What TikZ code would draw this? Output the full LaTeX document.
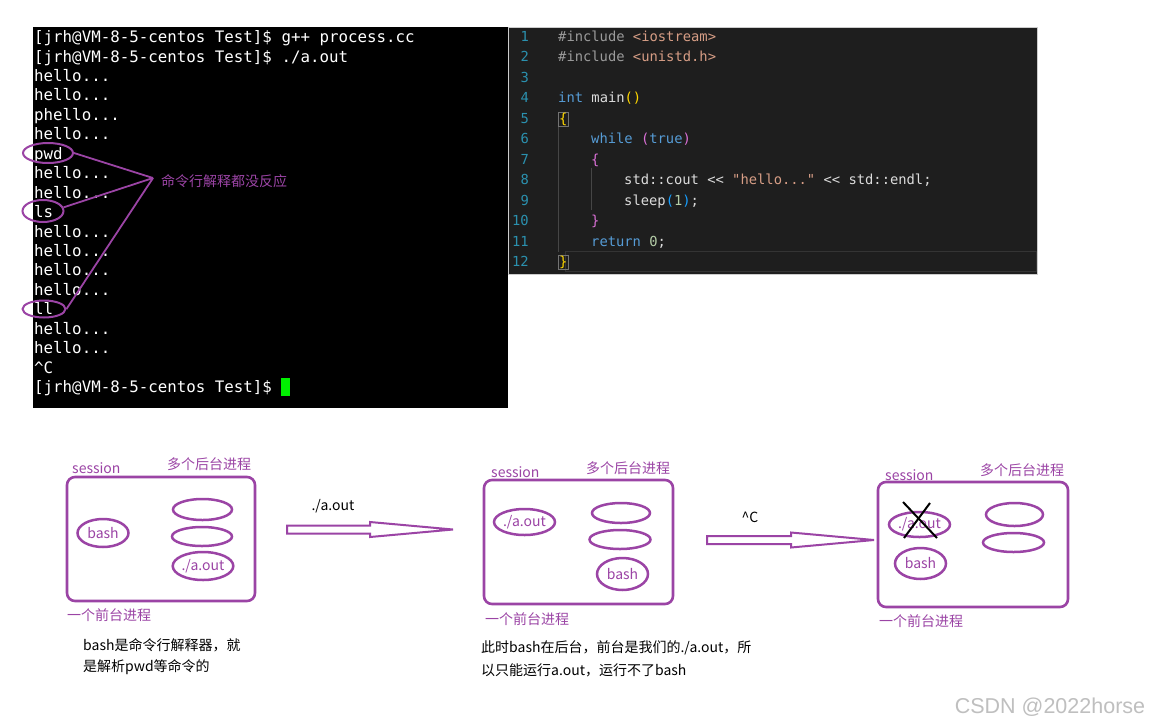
\documentclass[tikz,border=0pt]{standalone}
\usepackage{fontspec}
\setmainfont{Noto Sans CJK SC}
\setmonofont{DejaVu Sans Mono}
\newfontfamily\wmfont{Liberation Sans}
\usetikzlibrary{shapes.geometric}

\newcommand\prompt{[jrh@VM-8-5-centos Test]\$}
\newcommand\helloline{hello...}
\newcommand\phelloline{phello...}

\begin{document}
\begin{tikzpicture}[x=1pt, y=-1pt]

% ── Colours ──
\definecolor{annot}{RGB}{155,68,165}
\definecolor{codebg}{RGB}{30,30,30}
\definecolor{curline}{RGB}{52,52,52}
\definecolor{guide}{RGB}{70,70,70}
\definecolor{lnum}{RGB}{43,145,175}
\definecolor{cgray}{RGB}{155,155,155}
\definecolor{cstr}{RGB}{214,157,133}
\definecolor{ckey}{RGB}{86,156,214}
\definecolor{cplain}{RGB}{220,220,220}
\definecolor{cyel}{RGB}{255,215,0}
\definecolor{cmag}{RGB}{218,112,214}
\definecolor{cblu}{RGB}{23,159,255}
\definecolor{cnum}{RGB}{181,206,168}
\definecolor{cursor}{RGB}{0,240,0}

\tikzset{
  termline/.style={anchor=base west, inner sep=0pt, text=white, font=\ttfamily\fontsize{15.8}{19}\selectfont},
  codeline/.style={anchor=base west, inner sep=0pt, text=cplain, font=\ttfamily\fontsize{13.8}{17}\selectfont},
  linenum/.style={anchor=base east, inner sep=0pt, text=lnum, font=\ttfamily\fontsize{13.8}{17}\selectfont},
  ring/.style={draw=annot, line width=2pt, ellipse, inner sep=0pt},
  proc/.style={draw=annot, line width=2.5pt, ellipse, inner sep=0pt, text=annot, font=\fontsize{14}{16}\selectfont},
  sess/.style={draw=annot, line width=2.6pt, rounded corners=8pt, inner sep=0pt},
  tag/.style={anchor=west, inner sep=0pt, text=annot, font=\fontsize{14}{16}\selectfont},
  note/.style={anchor=west, inner sep=0pt, text=black, font=\fontsize{14}{16}\selectfont},
}

\fill[white] (0,0) rectangle (1150,726);
\useasboundingbox (0,0) rectangle (1150,726);

% ── Terminal ──
\fill[black] (33,27) rectangle (508,408);
\foreach \t [count=\i] in {{\prompt{} g++ process.cc}, {\prompt{} ./a.out},
    \helloline, \helloline, \phelloline, \helloline, pwd, \helloline, \helloline, ls,
    \helloline, \helloline, \helloline, \helloline, ll, \helloline, \helloline,
    \textasciicircum C, \prompt} {
  \pgfmathsetmacro{\y}{37 + (\i-1)*19.44 + 5.6}
  \node[termline] (t\i) at (34, \y) {\t};
}
\fill[cursor] (281,378) rectangle (290,396);

% rings round the ignored commands
\node[ring, minimum width=50pt, minimum height=20pt] (pwdring) at (48,153) {};
\node[ring, minimum width=41pt, minimum height=22pt] (lsring) at (43,211) {};
\node[ring, minimum width=43pt, minimum height=17pt] (llring) at (44,309) {};
\node[tag] (nores) at (161,181) {命令行解释都没反应};
\coordinate (meet) at (153,178);
\draw[annot, line width=1.8pt] (pwdring.east) -- (meet);
\draw[annot, line width=1.8pt] (lsring.10) -- (meet);
\draw[annot, line width=1.8pt] (llring.east) -- (meet);

% ── Code panel ──
\fill[codebg, draw=black!20] (508,27) rectangle (1037,274);
\draw[curline, line width=1pt] (565,251) rectangle (1036,271);
\draw[guide, line width=0.8pt] (558,122) -- (558,252);
\draw[guide, line width=0.6pt] (591,168) -- (591,210);
\foreach \i in {1,...,12} {
  \pgfmathsetmacro{\y}{36 + (\i-1)*20.5 + 5}
  \node[linenum] (n\i) at (529, \y) {\i};
}
\node[codeline] (c1) at (558, 41) {{\color{cgray}\#include} {\color{cstr}<iostream>}};
\node[codeline] (c2) at (558, 61.5) {{\color{cgray}\#include} {\color{cstr}<unistd.h>}};
\node[codeline] (c4) at (558, 102.5) {{\color{ckey}int} main{\color{cyel}()}};
\node[codeline, text=cyel, draw=black!55, inner sep=0.8pt] (c5) at (558, 123) {\{};
\node[codeline] (c6) at (591, 143.5) {{\color{ckey}while} {\color{cmag}(}{\color{ckey}true}{\color{cmag})}};
\node[codeline, text=cmag] (c7) at (591, 164) {\{};
\node[codeline] (c8) at (624, 184.5) {std::cout << {\color{cstr}"hello..."} << std::endl;};
\node[codeline] (c9) at (624, 205) {sleep{\color{cblu}(}{\color{cnum}1}{\color{cblu})};};
\node[codeline, text=cmag] (c10) at (591, 225.5) {\}};
\node[codeline] (c11) at (591, 246) {{\color{ckey}return} {\color{cnum}0};};
\node[codeline, text=cyel, draw=black!55, inner sep=0.8pt] (c12) at (558, 266.5) {\}};

% ═══════════════════════════════════════
% SESSIONS
% ═══════════════════════════════════════

% before: bash in front
\node[tag] (s1lab) at (72,468) {session};
\node[tag] (s1bg) at (167,464) {多个后台进程};
\node[sess, minimum width=188pt, minimum height=124pt] (s1) at (161,539) {};
\node[proc, minimum width=51pt, minimum height=28pt] (s1bash) at (103,533) {bash};
\node[proc, minimum width=59pt, minimum height=21pt] (s1e1) at (202.5,509.5) {};
\node[proc, minimum width=60pt, minimum height=19pt] (s1e2) at (202,536.5) {};
\node[proc, minimum width=60pt, minimum height=28pt] (s1aout) at (203,566) {./a.out};
\node[tag] (s1fg) at (67,615) {一个前台进程};
\node[note] (s1n1) at (83,645) {bash是命令行解释器，就};
\node[note] (s1n2) at (83,667) {是解析pwd等命令的};

% block arrows
\node[note, anchor=center] (a1lab) at (333,506) {./a.out};
\node[note, anchor=center] (a2lab) at (750,517) {\textasciicircum C};
\foreach \ax/\ay/\bx/\tx in {287/529.5/370/453, 707/540/791/874} {
  \draw[annot, line width=2pt] (\ax,\ay-4) -- (\bx,\ay-4) -- (\bx,\ay-7.5) -- (\tx,\ay)
    -- (\bx,\ay+7.5) -- (\bx,\ay+4) -- (\ax,\ay+4) -- cycle;
}

% after ./a.out: a.out in front, bash behind
\node[tag] (s2lab) at (491,472) {session};
\node[tag] (s2bg) at (586,468) {多个后台进程};
\node[sess, minimum width=189pt, minimum height=124pt] (s2) at (578.5,542) {};
\node[proc, minimum width=61pt, minimum height=26pt] (s2aout) at (524.5,522) {./a.out};
\node[proc, minimum width=58pt, minimum height=20pt] (s2e1) at (621,513) {};
\node[proc, minimum width=61pt, minimum height=19pt] (s2e2) at (620,539.5) {};
\node[proc, minimum width=51pt, minimum height=32pt] (s2bash) at (622.5,574) {bash};
\node[tag] (s2fg) at (485,619) {一个前台进程};
\node[note] (s2n1) at (481,648) {此时bash在后台，前台是我们的./a.out，所};
\node[note] (s2n2) at (481,670) {以只能运行a.out，运行不了bash};

% after ^C: a.out gone, bash back in front
\node[tag] (s3lab) at (885,475) {session};
\node[tag] (s3bg) at (980,470) {多个后台进程};
\node[sess, minimum width=190pt, minimum height=125pt] (s3) at (973,544.5) {};
\node[proc, minimum width=61pt, minimum height=25pt] (s3aout) at (919.5,524.5) {./a.out};
\draw[black, line width=2pt] (903,502) -- (937,538);
\draw[black, line width=2pt] (930,503) -- (904,538);
\node[proc, minimum width=51pt, minimum height=31pt] (s3bash) at (920.5,563.5) {bash};
\node[proc, minimum width=57pt, minimum height=23pt] (s3e1) at (1014.5,514.5) {};
\node[proc, minimum width=61pt, minimum height=19pt] (s3e2) at (1013.5,542.5) {};
\node[tag] (s3fg) at (879,621) {一个前台进程};

% watermark
\node[text=black!25, inner sep=0pt, font=\wmfont\fontsize{21.5}{24}\selectfont] (wm) at (1050,707) {CSDN @2022horse};

\end{tikzpicture}
\end{document}
